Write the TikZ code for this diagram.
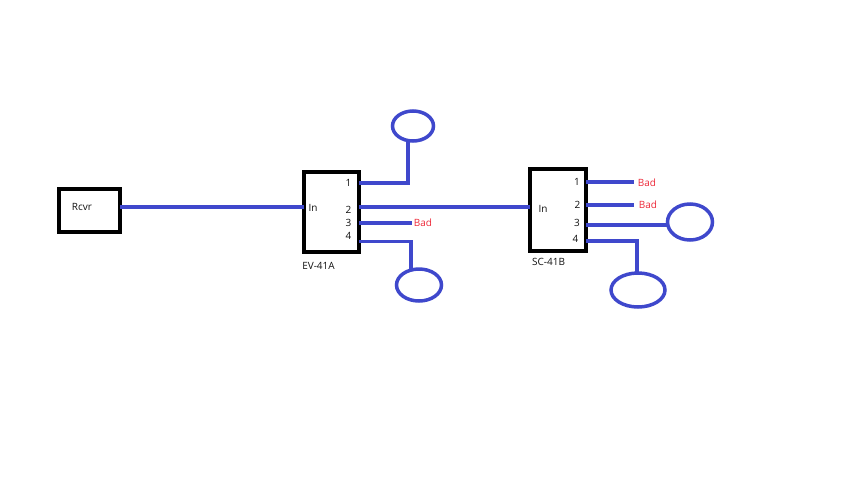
\documentclass[tikz,border=0pt]{standalone}
\usepackage{fontspec}
\setmainfont{Open Sans}
\usepackage{xcolor}
\usetikzlibrary{shapes.geometric}
\definecolor{wireblue}{HTML}{3F48CC}
\definecolor{badred}{HTML}{ED2A3A}
\definecolor{labelgray}{HTML}{101010}
\tikzset{
  unitbox/.style={draw=black,line width=4pt,rectangle,inner sep=0pt},
  wire/.style={draw=wireblue,line width=3.5pt},
  load/.style={draw=wireblue,line width=3.5pt,ellipse,inner sep=0pt},
  lbl/.style={text=labelgray,font=\fontsize{10}{11}\selectfont,inner sep=0pt},
  badlbl/.style={text=badred,font=\fontsize{10}{11}\selectfont,inner sep=0pt}
}
\begin{document}
\begin{tikzpicture}[x=1pt,y=-1pt]
      \useasboundingbox (0,0) rectangle (854,480);
      % boxes
      \node (rcvr) [unitbox,minimum width=61pt,minimum height=43pt] at (89.5,210) {};
      \node (ev) [unitbox,minimum width=55pt,minimum height=80pt] at (331.5,212) {};
      \node (sc) [unitbox,minimum width=56pt,minimum height=82pt] at (558,210) {};
      % loads
      \node (evtop) [load,minimum width=41pt,minimum height=30pt] at (413,126) {};
      \node (evbot) [load,minimum width=45pt,minimum height=32pt] at (419,285) {};
      \node (scright) [load,minimum width=45pt,minimum height=36pt] at (690,222) {};
      \node (scbot) [load,minimum width=54pt,minimum height=34pt] at (638,290) {};
      % free ends
      \coordinate (rcvrout) at (120,207);
      \coordinate (evin) at (304,207);
      \coordinate (ev1) at (359,183);
      \coordinate (ev2) at (359,207);
      \coordinate (ev3) at (359,223);
      \coordinate (ev4) at (359,241.5);
      \coordinate (evtopin) at (408,141);
      \coordinate (evbotin) at (411,270);
      \coordinate (ev3end) at (412,223);
      \coordinate (scin) at (530,207);
      \coordinate (sc1) at (586,182);
      \coordinate (sc2) at (586,205);
      \coordinate (sc3) at (586,225);
      \coordinate (sc4) at (586,241);
      \coordinate (sc1end) at (634,182);
      \coordinate (sc2end) at (634,205);
      \coordinate (sc3end) at (668,225);
      \coordinate (scbotin) at (637,273);
      % wires
      \path[wire] (rcvrout) -- (evin);
      \path[wire] (ev2) -- (scin);
      \path[wire] (ev1) -| (evtopin);
      \path[wire] (ev3) -- (ev3end);
      \path[wire] (ev4) -| (evbotin);
      \path[wire] (sc1) -- (sc1end);
      \path[wire] (sc2) -- (sc2end);
      \path[wire] (sc3) -- (sc3end);
      \path[wire] (sc4) -| (scbotin);
      % labels
      \node (rcvrlbl) [lbl] at (82,207) {Rcvr};
      \node (evinlbl) [lbl] at (313,208) {In};
      \node (evlbl1) [lbl] at (348.5,183) {1};
      \node (evlbl2) [lbl] at (348.5,210) {2};
      \node (evlbl3) [lbl] at (348.5,223) {3};
      \node (evlbl4) [lbl] at (348.5,236) {4};
      \node (evname) [lbl] at (318.5,266) {EV-41A};
      \node (evbad) [badlbl] at (423,222.5) {Bad};
      \node (scinlbl) [lbl] at (543,209) {In};
      \node (sclbl1) [lbl] at (577,182) {1};
      \node (sclbl2) [lbl] at (577.5,205) {2};
      \node (sclbl3) [lbl] at (577,222.5) {3};
      \node (sclbl4) [lbl] at (575.5,239) {4};
      \node (scname) [lbl] at (548.5,262) {SC-41B};
      \node (scbad1) [badlbl] at (647,182.5) {Bad};
      \node (scbad2) [badlbl] at (648,204.5) {Bad};
    \end{tikzpicture}
\end{document}
